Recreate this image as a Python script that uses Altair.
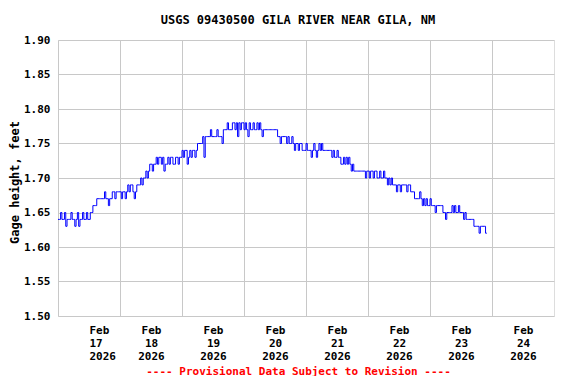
import json
import altair as alt
import pandas as pd

# Gage height, hundredths of a foot above 1.00 ft, half-hourly samples starting at 00:00 each day
feb17 = [64, 64, 65, 64, 64, 65, 63, 64, 64, 64, 65, 64, 64, 63, 64, 65, 63, 64, 64, 65, 64, 64, 65, 64,
         64, 65, 65, 66, 66, 66, 67, 67, 67, 67, 67, 67, 68, 67, 67, 66, 67, 67, 68, 68, 67, 68, 68, 68]
feb18 = [68, 67, 68, 68, 67, 68, 69, 68, 69, 69, 68, 67, 68, 69, 69, 69, 70, 69, 70, 70, 71, 70, 71, 72,
         72, 71, 72, 72, 73, 72, 73, 73, 72, 73, 71, 72, 72, 73, 72, 73, 73, 72, 72, 73, 73, 72, 73, 73]
feb19 = [74, 73, 74, 74, 72, 73, 74, 73, 74, 74, 73, 74, 75, 75, 75, 75, 76, 73, 76, 76, 76, 76, 77, 76,
         76, 76, 76, 77, 76, 76, 76, 75, 77, 77, 77, 78, 77, 77, 77, 78, 78, 77, 78, 76, 78, 77, 78, 78]
feb20 = [77, 78, 77, 76, 78, 77, 77, 78, 77, 77, 78, 77, 78, 77, 76, 77, 77, 77, 77, 77, 77, 77, 77, 77,
         77, 77, 76, 76, 75, 76, 76, 76, 76, 75, 76, 75, 75, 76, 75, 74, 75, 75, 74, 75, 75, 74, 74, 74]
feb21 = [75, 74, 74, 74, 73, 74, 75, 74, 73, 74, 75, 74, 75, 74, 74, 74, 74, 74, 74, 74, 73, 74, 73, 73,
         74, 73, 73, 72, 72, 73, 72, 73, 72, 73, 72, 71, 72, 71, 71, 71, 71, 71, 71, 71, 71, 71, 70, 71]
feb22 = [71, 70, 71, 71, 70, 71, 71, 70, 70, 71, 70, 70, 71, 70, 70, 69, 70, 69, 70, 69, 69, 69, 68, 69,
         69, 68, 69, 69, 69, 69, 68, 69, 69, 68, 68, 68, 67, 67, 67, 67, 68, 67, 66, 67, 66, 67, 66, 66]
feb23 = [67, 66, 66, 66, 65, 66, 66, 66, 66, 66, 65, 65, 64, 65, 65, 65, 65, 66, 65, 66, 65, 65, 66, 65,
         65, 65, 64, 65, 64, 64, 64, 64, 64, 64, 63, 63, 63, 63, 62, 63, 63, 63, 63, 62, 62]

days = [feb17, feb18, feb19, feb20, feb21, feb22, feb23]
levels = [v for day in days for v in day]
hours = [i * 0.5 for i in range(len(levels))]
gage = [1.0 + v / 100.0 for v in levels]

date_labels = [["Feb", "17", "2026"], ["Feb", "18", "2026"], ["Feb", "19", "2026"], ["Feb", "20", "2026"],
               ["Feb", "21", "2026"], ["Feb", "22", "2026"], ["Feb", "23", "2026"], ["Feb", "24", "2026"]]
day_starts = [0, 24, 48, 72, 96, 120, 144, 168]
y_ticks = [1.50, 1.55, 1.60, 1.65, 1.70, 1.75, 1.80, 1.85, 1.90]

df = pd.DataFrame({"hour": hours, "gage": gage})

FONT = "DejaVu Sans Mono"
label_expr = json.dumps(date_labels) + "[round(datum.value / 24)]"

chart = alt.Chart(df).mark_line(
    color="#0000ff", strokeWidth=1, interpolate="step-after"
).encode(
    x=alt.X(
        "hour:Q",
        scale=alt.Scale(domain=[0, 192], nice=False, zero=False),
        axis=alt.Axis(
            values=day_starts,
            labelExpr=label_expr,
            labelOffset=31,
            labelFont=FONT, labelFontSize=11, labelFontWeight="bold", labelColor="black",
            labelLineHeight=13, labelPadding=8, labelBaseline="top",
            ticks=False, domain=False,
            grid=True, gridColor="#c8c8c8", gridWidth=1,
            title="---- Provisional Data Subject to Revision ----",
            titleFont=FONT, titleFontSize=11, titleFontWeight="bold", titleColor="#ff0000",
            titleX=240, titleY=55, titleAlign="center", titleBaseline="middle",
        ),
    ),
    y=alt.Y(
        "gage:Q",
        scale=alt.Scale(domain=[1.5, 1.9], nice=False, zero=False),
        axis=alt.Axis(
            values=y_ticks, format=".2f",
            labelFont=FONT, labelFontSize=11, labelFontWeight="bold", labelColor="black",
            labelPadding=8, ticks=False, domain=False,
            grid=True, gridColor="#c8c8c8", gridWidth=1,
            title="Gage height, feet",
            titleFont=FONT, titleFontSize=12, titleFontWeight="bold", titleColor="black",
            titleX=-44, titleY=142, titleAngle=270, titleAlign="center", titleBaseline="middle",
        ),
    ),
).properties(
    width=496,
    height=276,
    padding={"left": 50, "top": 32, "right": 14, "bottom": 60},
    autosize="none",
    title=alt.TitleParams(
        "USGS 09430500 GILA RIVER NEAR GILA, NM",
        font=FONT, fontSize=12, fontWeight="bold", color="black",
        anchor="middle", offset=7, dx=-8,
    ),
).configure_view(
    stroke="black", strokeWidth=1.5
).configure(background="white")

chart.save("out.html", embed_options={"renderer": "svg", "actions": False})
